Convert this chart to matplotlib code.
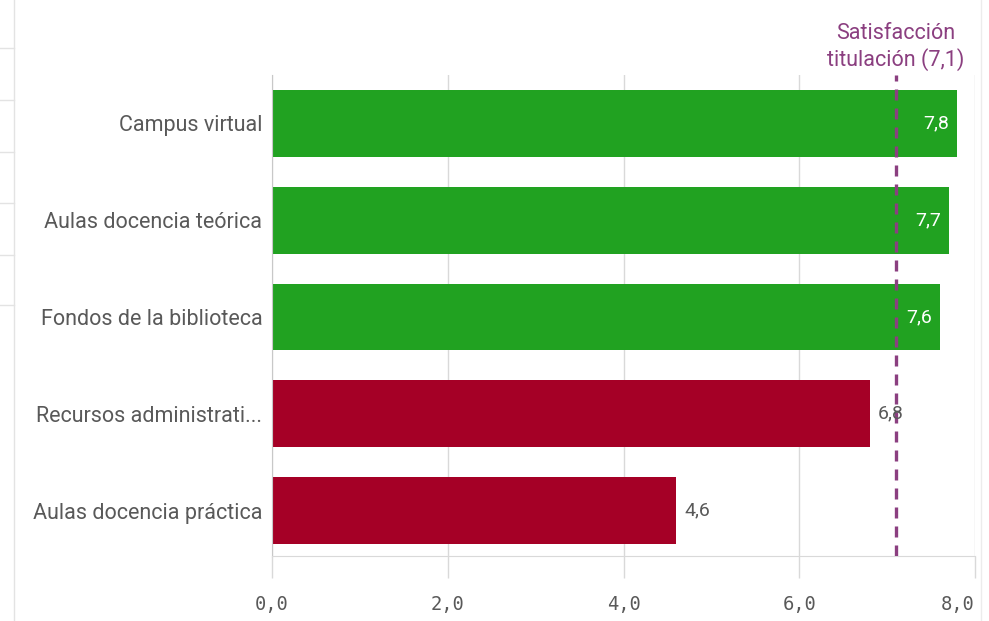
import matplotlib.pyplot as plt
import matplotlib.lines as mlines

categories = ["Campus virtual", "Aulas docencia teórica", "Fondos de la biblioteca",
              "Recursos administrati...", "Aulas docencia práctica"]
values = [7.8, 7.7, 7.6, 6.8, 4.6]
reference = 7.1
reference_label = "Satisfacción\ntitulación (7,1)"
xticks = [0, 2, 4, 6, 8]

green = "#21a221"
red = "#a50026"
purple = "#8b3f80"
grey_text = "#595959"

plt.rcParams['font.family'] = ['Roboto', 'DejaVu Sans']

fig = plt.figure(figsize=(9.89, 6.21), dpi=100)
ax = fig.add_axes([272 / 989, 65 / 621, 703 / 989, 481 / 621])

ypos = list(range(len(categories)))
colors = [green if v >= reference else red for v in values]
ax.barh(ypos, values, height=0.69, color=colors, zorder=2)

for y, v, c in zip(ypos, values, colors):
    txt = ("%.1f" % v).replace(".", ",")
    if c == green:
        ax.text(v - 0.09, y, txt, ha="right", va="center", color="white", fontsize=14, zorder=4)
    else:
        ax.text(v + 0.09, y, txt, ha="left", va="center", color=grey_text, fontsize=14, zorder=4)

ax.axvline(reference, color=purple, linestyle=(0, (3.3, 2.4)), linewidth=2.4, zorder=3)
ax.text(reference, -0.54, reference_label, ha="center", va="bottom", color=purple,
        fontsize=15.5, linespacing=1.22)

ax.set_xlim(0, 8)
ax.set_ylim(4.47, -0.5)
ax.set_yticks(ypos)
ax.set_yticklabels(categories, fontsize=15.5, color=grey_text)
ax.set_xticks(xticks)
ax.set_xticklabels([("%.1f" % t).replace(".", ",") for t in xticks],
                   fontsize=13.5, color=grey_text, family="DejaVu Sans Mono")
ax.get_xticklabels()[-1].set_horizontalalignment("right")
ax.tick_params(axis="y", length=0, pad=7)
ax.tick_params(axis="x", length=16, color="#d9d9d9", width=1, pad=12)
ax.grid(axis="x", color="#d9d9d9", linewidth=1, zorder=0)
for side in ["top", "right"]:
    ax.spines[side].set_visible(False)
ax.spines["left"].set_color("#c8c8c8")
ax.spines["bottom"].set_color("#d9d9d9")

# page furniture around the chart
fig.add_artist(mlines.Line2D([14 / 989, 14 / 989], [0, 1], color="#e3e3e3", linewidth=1))
fig.add_artist(mlines.Line2D([981 / 989, 981 / 989], [0, 1], color="#ececec", linewidth=1))
for yy in [48, 100, 152, 203, 255, 305]:
    fig.add_artist(mlines.Line2D([0, 14 / 989], [1 - yy / 621, 1 - yy / 621], color="#e3e3e3", linewidth=1))

fig.savefig("out.png", dpi=100)
